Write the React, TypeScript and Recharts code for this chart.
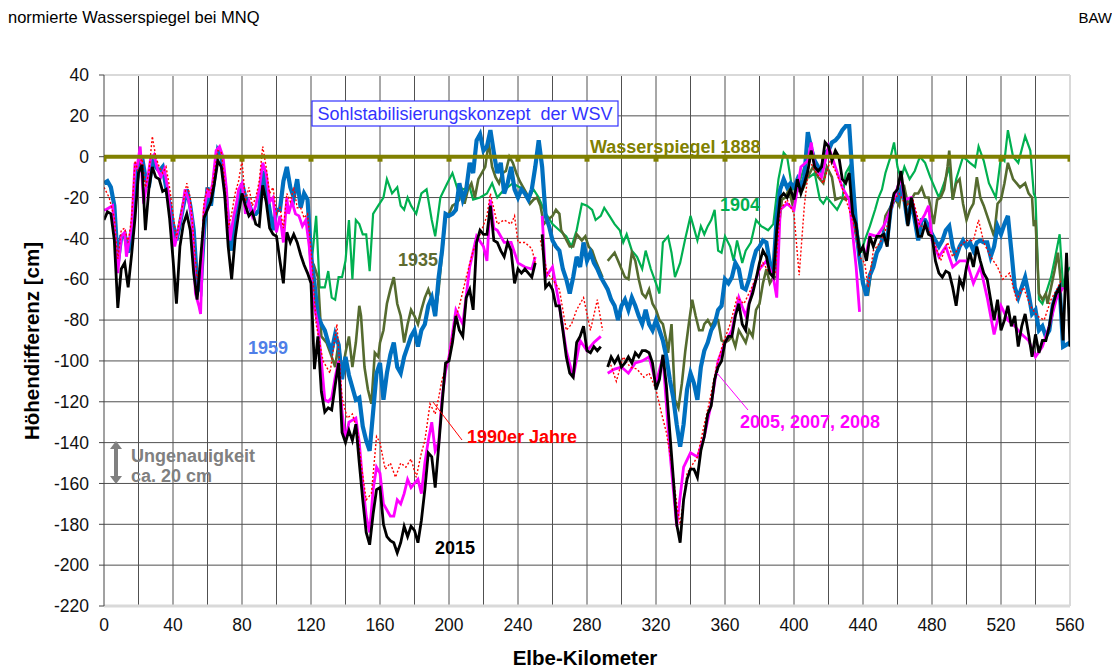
import React from 'react';
import { LineChart, Line, XAxis, YAxis, CartesianGrid, ReferenceLine } from 'recharts';

type Pair = [number, number | null];

const FONT = '"Liberation Sans", Arial, sans-serif';

// axis ticks
const KM_TICKS = [0, 20, 40, 60, 80, 100, 120, 140, 160, 180, 200, 220, 240, 260, 280, 300, 320, 340, 360, 380, 400, 420, 440, 460, 480, 500, 520, 540, 560];
const Y_TICKS = [-220, -200, -180, -160, -140, -120, -100, -80, -60, -40, -20, 0, 20, 40];
const GRID_H = [-200, -180, -160, -140, -120, -100, -80, -60, -40, -20, 0, 20];
const GRID_V = [20, 40, 60, 80, 100, 120, 140, 160, 180, 200, 220, 240, 260, 280, 300, 320, 340, 360, 380, 400, 420, 440, 460, 480, 500, 520, 540];

// Elbe-km every 2 km (0..560) for the densely sampled series
const GRID_KM = Array.from({ length: 281 }, (_, i) => i * 2);

// 2015, cm, every 2 km
const MNQ_2015: (number | null)[] = [
  -31, -27, -28, -41, -74, -55, -52, -64, -48, -30,
  -8, -4, -36, -16, -5, -10, -11, -17, -16, -30,
  -50, -72, -44, -33, -28, -36, -57, -70, -50, -30,
  -26, -22, -13, -2, -5, -19, -44, -60, -40, -28,
  -18, -24, -29, -27, -33, -34, -14, -22, -35, -38,
  -39, -51, -62, -37, -42, -38, -42, -48, -53, -57,
  -62, -104, -88, -115, -125, -123, -124, -112, -101, -135,
  -140, -134, -139, -131, -150, -168, -184, -190, -175, -163,
  -162, -180, -186, -188, -189, -194, -189, -181, -186, -181,
  -183, -189, -178, -163, -145, -147, -162, -142, -121, -101,
  -100, -91, -78, -85, -88, -69, -65, -75, -42, -36,
  -38, -38, -24, -41, -42, -46, -49, -42, -46, -62,
  -55, -57, -55, -57, -59, -52, null, -38, -64, -62,
  -65, -73, -73, -85, -98, -106, -108, -91, -88, -83,
  -95, -96, -93, -95, -93, null, -103, -98, -101, -98,
  -103, -101, -98, -101, -96, -98, -95, -95, -96, -101,
  -114, -109, -97, -112, -135, -157, -180, -189, -168, -158,
  -153, -153, -157, -144, -137, -126, -122, -109, -103, -100,
  -91, -88, -88, -78, -72, -82, -85, -72, -67, -60,
  -52, -46, -49, -57, -59, -36, -20, -18, -20, -16,
  -21, -11, -18, -13, -7, 3, -5, -7, -5, 7,
  5, -2, 3, 0, -11, -13, -8, -28, -33, -47,
  -44, -51, -39, -44, -39, -39, -38, -44, -26, -18,
  -16, -7, -20, -34, -20, -29, -39, -39, -33, -38,
  -39, -51, -57, -59, -56, -57, -64, -73, -60, -64,
  -54, -47, -54, -44, -51, -57, -60, -70, -80, -70,
  -85, -80, -73, -83, -78, -93, -83, -77, -87, -98,
  -87, -96, -90, -90, -83, -73, -67, -64, -90, -47,
  -93,
];

// 1959, cm, every 2 km
const MNQ_1959: (number | null)[] = [
  -13, -12, -15, -24, -52, -39, -38, -47, -39, -20,
  -5, 0, -10, -15, -2, -5, -7, -5, -15, -23,
  -33, -41, -33, -24, -16, -24, -36, -62, -65, -36,
  -15, -24, -10, 3, 0, -13, -33, -46, -28, -23,
  -13, -20, -23, -28, -28, -26, -7, -16, -26, -36,
  -26, -26, -12, -5, -15, -20, -11, -25, -18, -21,
  -48, -62, -78, -82, -85, -91, -95, -87, -92, -109,
  -98, -107, -113, -119, -118, -132, -139, -144, -125, -106,
  -101, -119, -106, -97, -91, -103, -106, -98, -93, -88,
  -85, -93, -85, -82, -73, -69, -78, -59, -46, -28,
  -29, -28, -26, -13, -21, -16, -3, -8, 8, 11,
  3, 5, 13, 2, -8, -3, -18, -13, -5, -16,
  -20, -16, -18, -21, -16, -5, 8, -5, -29, -34,
  -41, -44, -46, -55, -60, -67, -59, -49, -54, -42,
  -51, -47, -52, -55, -59, -62, -65, -70, -73, -80,
  -73, -70, -75, -69, -73, -78, -82, -75, -82, -85,
  -80, -85, -90, -98, -109, -118, -131, -142, -131, -114,
  -106, -111, -119, -103, -95, -91, -85, -82, -75, -73,
  -60, -62, -59, -52, -55, -64, -65, -60, -52, -46,
  -44, -41, -42, -52, -57, -29, -16, -11, -15, -13,
  -15, -11, -15, -10, 12, 4, -2, -5, -7, 2,
  3, 7, 8, 10, 13, 15, 15, -11, -34, -50,
  -62, -68, -58, -54, -47, -44, -38, -41, -26, -20,
  -21, -16, -21, -33, -21, -31, -41, -31, -31, -34,
  -38, -41, -44, -41, -36, -34, -44, -49, -44, -41,
  -44, -42, -46, -42, -41, -42, -42, -49, -44, -34,
  -38, -33, -29, -46, -64, -69, -64, -59, -67, -77,
  -75, -85, -83, -88, -85, -73, -67, -64, -93, -92,
  -91,
];

// 2005, 2007, 2008 [km, cm]
const MNQ_2005: Pair[] = [
  [0, -26], [1, -26], [5, -24], [8, -57], [10, -39], [12, -37], [13, -49], [14, -44], [16, -34], [18, -3],
  [19, -6], [21, 5], [23, -23], [25, -12], [27, -1], [29, 1], [31, -6], [33, -10], [35, -6], [37, -16],
  [39, -34], [41, -44], [43, -36], [45, -28], [47, -16], [49, -21], [51, -30], [53, -67], [55, -73], [56, -77],
  [58, -26], [60, -16], [61, -20], [63, -13], [65, 3], [67, 5], [69, 0], [71, -16], [73, -41], [75, -30],
  [77, -22], [78, -16], [80, -13], [82, -28], [84, -22], [86, -29], [88, -24], [90, -16], [92, -3], [94, -8],
  [96, -22], [98, -20], [100, -37], [102, -29], [104, -42], [106, -20], [107, -28], [109, -22], [111, -28], [113, -29],
  [115, -34], [117, -31], [119, -44], [121, -70], [124, -82], [126, -100], [128, -119], [130, -120], [132, -118], [134, -108],
  [136, -100], [138, -125], [140, -139], [142, -130], [144, -129], [146, -128], [148, -140], [150, -160], [152, -176], [154, -184],
  [156, -163], [158, -152], [160, -155], [162, -170], [164, -173], [166, -176], [168, -176], [170, -168], [172, -170], [174, -165],
  [176, -158], [178, -162], [180, -160], [182, -158], [184, -165], [186, -150], [188, -139], [190, -130], [192, -144], [194, -140],
  [196, -118], [198, -105], [200, -98], [204, -75], [208, -82], [212, -54], [216, -39], [220, -44], [222, -51], [224, -21],
  [226, -35], [228, -36], [232, -42], [236, -42], [240, -52], [244, -54], [248, -55], [250, -49], [252, null], [254, -29],
  [256, -59], [260, -54], [264, -73], [268, -95], [272, -108], [276, -90], [280, -95], [284, -91], [288, -88], [290, null],
  [292, -106], [296, -104], [300, -103], [304, -106], [308, -101], [312, -100], [316, -98], [320, -111], [324, -98], [328, -144],
  [332, -181], [336, -152], [340, -145], [344, -147], [348, -137], [352, -121], [356, -100], [360, -91], [364, -85], [368, -69],
  [372, -78], [376, -65], [380, -55], [384, -51], [388, -59], [390, -69], [392, -26], [396, -23], [400, -26], [404, -5],
  [408, -2], [410, 7], [412, -5], [416, -10], [420, 5], [424, -5], [428, -15], [432, -21], [436, -54], [438, -76],
  [440, null], [442, -47], [444, -38], [448, -39], [452, -34], [456, -26], [460, -15], [462, -10], [464, -21], [468, -20],
  [472, -34], [476, -28], [478, -24], [480, -41], [484, -49], [488, -44], [492, -54], [496, -51], [500, -51], [504, -62],
  [508, -54], [512, -69], [516, -87], [520, -73], [524, -80], [528, -83], [532, -87], [536, -90], [540, -98], [544, -93],
  [548, -83], [552, -70], [556, -64],
];

// 1990er Jahre [km, cm]
const MNQ_1990: Pair[] = [
  [0, -15], [3, -20], [6, -30], [8, -50], [10, -36], [12, -35], [14, -42], [16, -30], [18, -2], [20, -8],
  [22, 0], [24, -15], [26, -8], [28, 10], [30, 0], [32, -5], [34, -8], [36, -5], [38, -15], [40, -28],
  [42, -40], [44, -30], [46, -22], [48, -13], [50, -20], [52, -40], [54, -60], [56, -52], [58, -22], [60, -15],
  [62, -18], [64, -8], [66, 3], [68, 2], [70, -12], [72, -35], [74, -28], [76, -18], [78, -12], [80, -2],
  [82, -22], [84, -15], [86, -24], [88, -20], [90, -12], [92, 5], [94, -5], [96, -18], [98, -15], [100, -28],
  [102, -25], [104, -35], [106, -18], [108, -22], [110, -15], [112, -25], [114, -25], [116, -30], [118, -28], [120, -45],
  [123, -82], [127, -100], [131, -106], [135, -82], [138, -118], [141, -128], [144, -126], [147, -135], [149, -150], [152, -168],
  [155, -165], [158, -137], [160, -140], [163, -153], [166, -150], [169, -157], [172, -150], [175, -152], [178, -148], [181, -157],
  [184, -145], [186, -139], [189, -121], [192, -126], [194, -118], [196, -109], [200, -98], [203, -82], [206, -73], [210, -59],
  [214, -46], [218, -38], [222, -29], [224, -18], [228, -33], [232, -31], [236, -33], [238, -29], [240, -42], [244, -42],
  [248, -45], [250, -52], [251, null], [253, -41], [257, -57], [260, -60], [264, -65], [268, -85], [271, -82], [274, -75],
  [278, -69], [282, -85], [286, -70], [289, -85], [290, null], [293, -100], [297, -110], [301, -98], [305, -103], [309, -104],
  [313, -108], [316, -106], [320, -114], [323, -125], [326, -135], [329, -150], [332, -170], [334, -180], [338, -155], [344, -147],
  [348, -131], [351, -120], [355, -103], [359, -91], [363, -82], [367, -69], [371, -72], [375, -65], [378, -59], [382, -52],
  [386, -57], [389, -58], [392, -26], [396, -21], [400, -28], [403, -58], [406, -24], [409, -2], [413, -8], [417, -13],
  [421, -2], [424, -7], [427, -13], [432, -26], [435, -34], [438, -49], [441, -52], [443, -64], [446, -46], [450, -42],
  [454, -34], [458, -21], [461, -18], [465, -24], [469, -21], [473, -34], [477, -34], [481, -41], [485, -51], [489, -42],
  [492, -49], [496, -44], [500, -41], [504, -41], [507, -31], [510, -42], [514, -49], [518, -54], [521, -60], [525, -57],
  [529, -70], [533, -64], [537, -73], [541, -78], [545, -80], [549, -70], [553, -64], [555, -60],
];

// 1904 [km, cm]
const MNQ_1904: Pair[] = [
  [120, -55], [123, -29], [125, -64], [128, -64], [130, -56], [132, -69], [134, -70], [136, -59], [138, -59], [140, -51],
  [142, -31], [144, -60], [146, -31], [148, -33], [150, -38], [152, -38], [154, -56], [156, -28], [159, -24], [162, -20],
  [164, -11], [167, -18], [170, -15], [172, -24], [174, -26], [176, -20], [178, -24], [181, -28], [184, -18], [187, -16],
  [190, -31], [192, -39], [195, -20], [199, -13], [202, -8], [205, -16], [208, -16], [212, -15], [214, -21], [218, -20],
  [222, -18], [225, -13], [228, -20], [232, -16], [234, -15], [237, -13], [241, -15], [244, -18], [246, -21], [249, -16],
  [252, -20], [255, -26], [257, -29], [260, -33], [264, -36], [268, -39], [271, -44], [274, -36], [277, -23], [280, -24],
  [283, -26], [285, -31], [288, -29], [290, -25], [293, -29], [296, -33], [299, -36], [301, -42], [303, -38], [306, -46],
  [309, -49], [312, -55], [314, -46], [317, -55], [320, -62], [322, -67], [324, -42], [327, -39], [329, -47], [331, -59],
  [334, -52], [337, -40], [340, -29], [342, -35], [344, -41], [346, -34], [348, -38], [350, -34], [352, -31], [354, -26],
  [356, -46], [358, -47], [360, -39], [363, -44], [365, -51], [367, -41], [370, -52], [372, -46], [375, -42], [378, -31],
  [381, -34], [385, -36], [388, -33], [391, -11], [394, 2], [396, 0], [399, -16], [401, -15], [403, -13], [406, -5],
  [409, -10], [412, -8], [415, -21], [417, -23], [419, -20], [422, -23], [425, -26], [428, -21], [430, -8], [432, -5],
  [434, -24], [437, -38], [439, -47], [441, -41], [444, -34], [447, -26], [449, -20], [451, -16], [453, -8], [456, 0],
  [458, 7], [460, -5], [462, -11], [464, -5], [467, -11], [470, -7], [473, 0], [476, -3], [479, -10], [482, -16],
  [484, -20], [487, -13], [490, -5], [492, -21], [494, -11], [498, 0], [502, -3], [505, -5], [507, 5], [510, -2],
  [513, -13], [517, -20], [520, 0], [522, -2], [524, 13], [527, 0], [530, -3], [534, 10], [537, 3], [539, -18],
  [540, -20], [542, -70], [544, -72], [546, -67], [549, -59], [551, -51], [554, -38], [556, -64], [558, -57], [560, -54],
];

// 1935 [km, cm]
const MNQ_1935: Pair[] = [
  [120, -59], [122, -54], [124, -59], [126, -88], [129, -91], [132, -98], [134, -103], [136, -91], [138, -106], [140, -96],
  [142, -88], [144, -103], [146, -91], [148, -73], [149, -78], [151, -103], [153, -114], [155, -121], [157, -96], [159, -98],
  [160, -91], [162, -85], [164, -72], [166, -65], [168, -59], [170, -72], [172, -78], [174, -91], [176, -82], [178, -75],
  [180, -78], [182, -82], [184, -75], [186, -69], [188, -65], [190, -70], [192, -78], [194, -65], [196, -47], [198, -29],
  [200, -28], [202, -24], [204, -23], [206, -21], [207, -15], [209, -23], [211, -16], [213, -13], [215, -20], [217, -11],
  [219, -8], [221, -5], [223, 7], [225, -5], [227, -10], [229, -13], [231, -8], [233, -7], [235, 0], [237, -3],
  [239, -8], [241, -12], [243, -15], [245, -18], [247, -23], [249, -21], [251, -20], [253, -24], [255, -33], [257, -31],
  [260, -29], [262, -26], [264, -28], [265, -36], [267, -39], [270, -44], [272, -44], [274, -38], [277, -41], [279, -39],
  [281, -44], [283, -46], [285, -51], [287, -55], [289, -59], [290, null], [292, -51], [294, -49], [296, -47], [298, -51],
  [300, -55], [302, -59], [304, -60], [306, -47], [308, -51], [310, -60], [312, -67], [314, -69], [316, -65], [318, -72],
  [320, -75], [322, -80], [324, -82], [326, -90], [327, -96], [329, -82], [331, -119], [333, -123], [335, -111], [337, -95],
  [339, -82], [341, -70], [343, -78], [345, -85], [347, -85], [348, -82], [350, -80], [352, -83], [354, -80], [356, -80],
  [358, -90], [360, -91], [362, -90], [364, -88], [366, -93], [368, -85], [370, -88], [372, -91], [374, -85], [376, -88],
  [378, -75], [380, -72], [382, -62], [384, -55], [386, -62], [388, -59], [390, -59], [391, -36], [393, -21], [395, -20],
  [397, -16], [399, -23], [401, -18], [403, -16], [405, -16], [408, -10], [411, -5], [414, -10], [417, -13], [419, -5],
  [422, -10], [424, -21], [427, -20], [430, -21], [432, -20], [434, -26], [435, -34], [437, -44], [439, -54], [441, -65],
  [443, -67], [445, -54], [447, -49], [449, -44], [451, -41], [453, -29], [455, -26], [457, -23], [459, -21], [461, -24],
  [462, -18], [464, -15], [466, -23], [468, -21], [470, -18], [472, -18], [474, -15], [476, -20], [478, -20], [479, -24],
  [481, -33], [483, -21], [485, -20], [487, -16], [489, -5], [490, 3], [491, -8], [492, -21], [494, -13], [496, -11],
  [498, -23], [500, -31], [502, -26], [504, -23], [506, -10], [508, -20], [510, -24], [512, -29], [514, -34], [516, -39],
  [518, -23], [520, -21], [522, -13], [524, -3], [527, -11], [531, -15], [534, -13], [536, -18], [538, -20], [539, -34],
  [540, -31], [542, -67], [544, -70], [546, -67], [547, -72], [549, -64], [551, -56], [553, -47], [555, -64],
];

// Wasserspiegel 1888 (reference level)
const WSP_1888_KM = [0, 40, 80, 120, 160, 200, 240, 280, 320, 360, 400, 440, 480, 520, 560];
const WSP_1888_CM = [0, 0, 0, 0, 0, 0, 0, 0, 0, 0, 0, 0, 0, 0, 0];

const onGrid = (vals: (number | null)[]) => vals.map((v, i) => ({ km: GRID_KM[i], v }));
const fromPairs = (pairs: Pair[]) => pairs.map(([km, v]) => ({ km, v }));

const data2015 = onGrid(MNQ_2015);
const data1959 = onGrid(MNQ_1959);
const data2005 = fromPairs(MNQ_2005);
const data1990 = fromPairs(MNQ_1990);
const data1904 = fromPairs(MNQ_1904);
const data1935 = fromPairs(MNQ_1935);
const data1888 = WSP_1888_KM.map((km, i) => ({ km, v: WSP_1888_CM[i] }));

const SquareDot = (props: any) => {
  const { cx, cy, index } = props;
  if (cx == null || cy == null) return <g key={`sq-${index}`} />;
  return <rect key={`sq-${index}`} x={cx - 2.5} y={cy - 1} width={5} height={6} fill="#808000" />;
};

const tickStyle = { fontSize: 17.5, fill: '#111', fontFamily: FONT };
const label = { fontFamily: FONT, fontWeight: 700, fontSize: 18 };
const axisTitle = { fontFamily: FONT, fontWeight: 700, fontSize: 20.5 };

export default function App() {
  return (
    <div style={{ position: 'relative', width: 1104, height: 662, fontFamily: FONT }}>
      <LineChart width={1104} height={662} margin={{ top: 67, right: 42, bottom: 34, left: 40 }}>
        <CartesianGrid stroke="#505050" strokeWidth={1} horizontalValues={GRID_H} verticalValues={GRID_V} />
        <XAxis
          type="number"
          dataKey="km"
          domain={[0, 560]}
          ticks={KM_TICKS}
          interval={0}
          tickFormatter={(v: number) => (v % 40 === 0 ? String(v) : '')}
          tickLine={false}
          tickMargin={7}
          axisLine={{ stroke: '#d9d9d9', strokeWidth: 3 }}
          tick={tickStyle}
          height={30}
          allowDataOverflow
        />
        <YAxis
          type="number"
          domain={[-220, 40]}
          ticks={Y_TICKS}
          interval={0}
          width={56}
          tickSize={5}
          tickMargin={10}
          tickLine={{ stroke: '#444' }}
          axisLine={{ stroke: '#444' }}
          tick={tickStyle}
          allowDataOverflow
        />
        <ReferenceLine y={40} stroke="#d9d9d9" strokeWidth={2} />
        <ReferenceLine x={560} stroke="#d9d9d9" strokeWidth={2} />

        <Line data={data1904} dataKey="v" type="linear" stroke="#00b050" strokeWidth={2.2} dot={false} activeDot={false} isAnimationActive={false} />
        <Line data={data1935} dataKey="v" type="linear" stroke="#556b2f" strokeWidth={2.6} dot={false} activeDot={false} isAnimationActive={false} />
        <Line data={data1959} dataKey="v" type="linear" stroke="#0070c0" strokeWidth={4.2} dot={false} activeDot={false} isAnimationActive={false} />
        <Line data={data2005} dataKey="v" type="linear" stroke="#ff00ff" strokeWidth={2.8} dot={false} activeDot={false} isAnimationActive={false} />
        <Line data={data1990} dataKey="v" type="linear" stroke="#ff0000" strokeWidth={1.4} strokeDasharray="2 2" dot={false} activeDot={false} isAnimationActive={false} />
        <Line data={data2015} dataKey="v" type="linear" stroke="#000000" strokeWidth={2.8} dot={false} activeDot={false} isAnimationActive={false} />
        <Line data={data1888} dataKey="v" type="linear" stroke="#808000" strokeWidth={4} dot={SquareDot} activeDot={false} isAnimationActive={false} />
      </LineChart>

      <svg width={1104} height={662} style={{ position: 'absolute', left: 0, top: 0, pointerEvents: 'none' }}>
        <text x={0} y={15} fontFamily={FONT} fontSize={16.5} fill="#000">normierte Wasserspiegel bei MNQ</text>
        <text x={1104} y={15} fontFamily={FONT} fontSize={15} fill="#000" textAnchor="end">BAW</text>

        <text transform="translate(31,333) rotate(-90)" textAnchor="middle" style={axisTitle} fill="#000">Höhendifferenz [cm]</text>
        <text x={577} y={657} textAnchor="middle" style={axisTitle} fill="#000">Elbe-Kilometer</text>

        <rect x={304} y={93} width={306} height={25} fill="#fff" stroke="#3333ff" strokeWidth={1.2} />
        <text x={457} y={112} textAnchor="middle" fontFamily={FONT} fontSize={18} fill="#3333ff" xmlSpace="preserve">Sohlstabilisierungskonzept  der WSV</text>

        <text x={582} y={145} style={label} fill="#808000">Wasserspiegel 1888</text>
        <text x={712} y={203} style={label} fill="#00b050">1904</text>
        <text x={390} y={258} style={label} fill="#5e6b30">1935</text>
        <text x={240} y={346} style={label} fill="#4f7fe8">1959</text>

        <line x1={425} y1={394} x2={454} y2={432} stroke="#ff0000" strokeWidth={1} />
        <text x={459} y={435} style={label} fill="#ff0000">1990er Jahre</text>

        <line x1={709} y1={365} x2={740} y2={402} stroke="#ff00ff" strokeWidth={1} />
        <text x={732} y={420} style={label} fill="#ff00ff">2005, 2007, 2008</text>

        <text x={427} y={546} style={label} fill="#000">2015</text>

        <line x1={108} y1={440} x2={108} y2={469} stroke="#808080" strokeWidth={4} />
        <polygon points="102,441 114,441 108,433" fill="#808080" />
        <polygon points="102,468 114,468 108,476" fill="#808080" />
        <text x={123} y={454} style={label} fill="#808080">Ungenauigkeit</text>
        <text x={123} y={474} style={label} fill="#808080">ca. 20 cm</text>
      </svg>
    </div>
  );
}
